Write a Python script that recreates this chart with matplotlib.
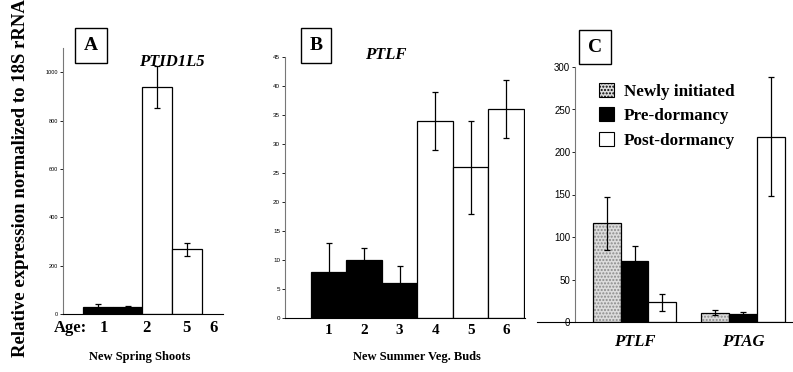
import matplotlib
matplotlib.use('Agg')
import matplotlib.pyplot as plt
from matplotlib.patches import Patch

W, H = 793, 372

# panel A: new spring shoots, PTID1L5
a_vals = [28, 30, 940, 268]
a_err = [15, 5, 87, 27]
a_cols = ['black', 'black', 'white', 'white']
a_ticklabels = ['1', '2', '5', '6']
a_tickpos = [0.2, 1.62, 3.0, 3.89]

# panel B: new summer veg. buds, PTLF
b_vals = [8, 10, 6, 34, 26, 36]
b_err = [5, 2, 3, 5, 8, 5]
b_cols = ['black', 'black', 'black', 'white', 'white', 'white']
b_ticklabels = ['1', '2', '3', '4', '5', '6']

# panel C: PTLF / PTAG by stage
c_genes = ['PTLF', 'PTAG']
c_stages = ['Newly initiated', 'Pre-dormancy', 'Post-dormancy']
c_vals = {'Newly initiated': [116, 11], 'Pre-dormancy': [72, 9], 'Post-dormancy': [23, 218]}
c_err = {'Newly initiated': [31, 3], 'Pre-dormancy': [17, 3], 'Post-dormancy': [10, 70]}

serif = 'Liberation Serif'
sans = 'Liberation Sans'

fig = plt.figure(figsize=(W / 100, H / 100), dpi=100)


def px_axes(l, r, b, t):
    return fig.add_axes([l / W, 1 - b / H, (r - l) / W, (b - t) / H])


def style(ax, tsize):
    for s in ['top', 'right']:
        ax.spines[s].set_visible(False)
    ax.spines['left'].set_color('#777777')
    ax.spines['left'].set_linewidth(0.8)
    ax.spines['bottom'].set_linewidth(0.8)
    ax.tick_params(axis='y', length=2, width=0.6, labelsize=tsize, pad=1.5)
    ax.tick_params(axis='x', length=0, pad=4)
    for lab in ax.get_yticklabels():
        lab.set_fontfamily(sans)


def box_label(x, y, s):
    fig.text(x / W, 1 - y / H, s, fontsize=14, fontweight='bold', family=serif,
             ha='center', va='center',
             bbox=dict(boxstyle='square,pad=0.45', fc='white', ec='black', lw=1))


ekw = dict(ecolor='black', elinewidth=0.9, capsize=2, capthick=0.9)

# ---- A
axA = px_axes(63, 223, 314, 48)
axA.bar(range(4), a_vals, width=1, color=a_cols, edgecolor='black', linewidth=0.9,
        yerr=a_err, error_kw=ekw)
axA.set_xlim(-1.18, 4.22)
axA.set_ylim(0, 1100)
axA.set_yticks(range(0, 1001, 200))
axA.set_xticks(a_tickpos)
axA.set_xticklabels(a_ticklabels, fontsize=12, fontweight='bold', family=serif)
style(axA, 4)
axA.set_title('PTID1L5', fontsize=12, fontweight='bold', style='italic', family=serif,
              x=0.68, y=0.9)
fig.text(70 / W, 1 - 328 / H, 'Age:', fontsize=12, fontweight='bold', family=serif,
         ha='center', va='center')
fig.text(140 / W, 1 - 357 / H, 'New Spring Shoots', fontsize=9, fontweight='bold',
         family=serif, ha='center', va='center')
box_label(91, 45.5, 'A')

# ---- B
axB = px_axes(285, 525, 318, 57)
axB.bar(range(6), b_vals, width=1, color=b_cols, edgecolor='black', linewidth=0.9,
        yerr=b_err, error_kw=ekw)
axB.set_xlim(-1.23, 5.53)
axB.set_ylim(0, 45)
axB.set_yticks(range(0, 46, 5))
axB.set_xticks(range(6))
axB.set_xticklabels(b_ticklabels, fontsize=11, fontweight='bold', family=serif)
style(axB, 4.5)
axB.set_title('PTLF', fontsize=12, fontweight='bold', style='italic', family=serif,
              x=0.42, y=0.96)
fig.text(417 / W, 1 - 357 / H, 'New Summer Veg. Buds', fontsize=9, fontweight='bold',
         family=serif, ha='center', va='center')
box_label(316, 45.5, 'B')

# ---- C
axC = px_axes(537, 792, 322, 67)
centers = [0, 3.9]
fills = {'Newly initiated': '#dcdcdc', 'Pre-dormancy': 'black', 'Post-dormancy': 'white'}
hatches = {'Newly initiated': '.....', 'Pre-dormancy': None, 'Post-dormancy': None}
for i, st in enumerate(c_stages):
    xs = [c + i - 1 for c in centers]
    if hatches[st]:
        # light stipple underneath, black outline on top
        axC.bar(xs, c_vals[st], width=1, color=fills[st], hatch=hatches[st],
                edgecolor='#8a8a8a', linewidth=0)
        axC.bar(xs, c_vals[st], width=1, fill=False, edgecolor='black', linewidth=0.9,
                yerr=c_err[st], error_kw=ekw)
    else:
        axC.bar(xs, c_vals[st], width=1, color=fills[st], edgecolor='black',
                linewidth=0.9, yerr=c_err[st], error_kw=ekw)
axC.set_xlim(-3.51, 5.67)
axC.set_ylim(0, 300)
axC.set_yticks(range(0, 301, 50))
axC.spines['left'].set_position(('data', -2.14))
axC.set_xticks(centers)
axC.set_xticklabels(c_genes, fontsize=12, fontweight='bold', style='italic', family=serif)
style(axC, 7)
axC.tick_params(axis='x', pad=9)
handles = [Patch(facecolor=fills[s], hatch=hatches[s], edgecolor='black', lw=0.8, label=s)
           for s in c_stages]
axC.legend(handles=handles, loc='upper left', bbox_to_anchor=(590 / W, 1 - 74 / H),
           bbox_transform=fig.transFigure, frameon=False, borderpad=0,
           handlelength=0.9, handleheight=0.9, handletextpad=0.6, labelspacing=0.45,
           prop=dict(family=serif, weight='bold', size=12.3))
box_label(595, 47, 'C')

fig.text(21 / W, 1 - 178 / H, 'Relative expression normalized to 18S rRNA', fontsize=13.5,
         fontweight='bold', family=serif, rotation=90, ha='center', va='center')

fig.savefig('out.png', dpi=100)
